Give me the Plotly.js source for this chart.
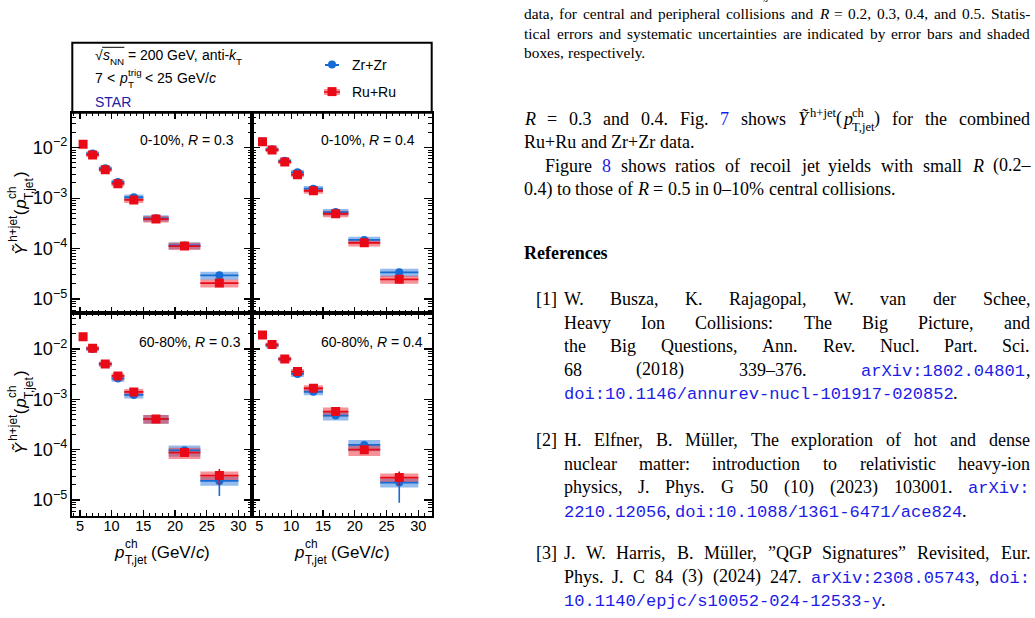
<!DOCTYPE html>
<html>
<head>
<meta charset="utf-8">
<script src="https://cdn.plot.ly/plotly-3.0.1.min.js"></script>
<style>
html, body { margin: 0; padding: 0; background: #fff; }
#fig { width: 1035px; height: 618px; }
</style>
</head>
<body>
<div id="fig"></div>
<script>
const W = 1035, H = 618;

// ---- p_T,jet^ch bins (GeV/c) ----
const binLow  = [5, 6, 8, 10, 12, 15, 19, 24];
const binHigh = [6, 8, 10, 12, 15, 19, 24, 30];
const binMid  = [5.5, 7, 9, 11, 13.5, 17, 21.5, 27];

// ---- recoil-jet yields Y~(h+jet) ----
const zrCentR03 = [0.0118, 0.0077, 0.0039, 0.0021, 0.00104, 0.000398, 0.000115, 2.95e-5];
const ruCentR03 = [0.0117, 0.0072, 0.00366, 0.00193, 0.00092, 0.000385, 0.000112, 2.07e-5];
const zrCentR04 = [0.0132, 0.0093, 0.0055, 0.00325, 0.00154, 0.00053, 0.000148, 3.37e-5];
const ruCentR04 = [0.0131, 0.0090, 0.0052, 0.00291, 0.0014, 0.00049, 0.00013, 2.45e-5];
const zrPeriR03 = [0.0175, 0.0100, 0.0050, 0.00258, 0.00122, 0.000408, 9.7e-5, 2.4e-5];
const ruPeriR03 = [0.0175, 0.0103, 0.00504, 0.00291, 0.0014, 0.000408, 8.75e-5, 3.06e-5];
const zrPeriR04 = [0.0190, 0.0118, 0.0063, 0.00319, 0.00141, 0.000475, 0.000124, 2.22e-5];
const ruPeriR04 = [0.0190, 0.0122, 0.00634, 0.00355, 0.00166, 0.00057, 0.0001, 2.79e-5];

// ---- relative statistical errors ----
const statCent   = [0.01, 0.01, 0.012, 0.015, 0.02, 0.03, 0.05, 0.10];
const statPeriZrR03 = [0.01, 0.015, 0.02, 0.03, 0.04, 0.06, 0.12, 0.50];
const statPeriRuR03 = [0.01, 0.015, 0.02, 0.03, 0.04, 0.06, 0.12, 0.35];
const statPeriZrR04 = [0.01, 0.015, 0.02, 0.03, 0.04, 0.06, 0.12, 0.60];
const statPeriRuR04 = [0.01, 0.015, 0.02, 0.03, 0.04, 0.06, 0.12, 0.32];

// ---- relative systematic uncertainties (box half-heights) ----
const sysCent = [0.08, 0.10, 0.10, 0.12, 0.13, 0.15, 0.16, 0.18];
const sysPeri = [0.08, 0.10, 0.11, 0.13, 0.15, 0.20, 0.25, 0.20];

// ---- page text ----
const captionTail = "{d|T,jet}";
const captionLines = [
  "data, for central and peripheral collisions and {i|R} = 0.2, 0.3, 0.4, and 0.5. Statis-",
  "tical errors and systematic uncertainties are indicated by error bars and shaded",
  "boxes, respectively."
];
const bodyLines = [
  "{i|R} = 0.3 and 0.4. Fig. {L|7} shows {i|Ỹ}{u|h+jet}({i|p}{uk|ch}{d|T,jet}) for the combined",
  "Ru+Ru and Zr+Zr data.",
  "Figure {L|8} shows ratios of recoil jet yields with small {i|R} (0.2–",
  "0.4) to those of {i|R} = 0.5 in 0–10% central collisions."
];
const refLabels = ["[1]", "[2]", "[3]"];
const refLines = [
  ["W. Busza, K. Rajagopal, W. van der Schee,",
   "Heavy Ion Collisions: The Big Picture, and",
   "the Big Questions, Ann. Rev. Nucl. Part. Sci.",
   "68 (2018) 339–376. {mL|arXiv:1802.04801},",
   "{mL|doi:10.1146/annurev-nucl-101917-020852}."],
  ["H. Elfner, B. Müller, The exploration of hot and dense",
   "nuclear matter: introduction to relativistic heavy-ion",
   "physics, J. Phys. G 50 (10) (2023) 103001. {mL|arXiv:}",
   "{mL|2210.12056}, {mL|doi:10.1088/1361-6471/ace824}."],
  ["J. W. Harris, B. Müller, ”QGP Signatures” Revisited, Eur.",
   "Phys. J. C 84 (3) (2024) 247. {mL|arXiv:2308.05743}, {mL|doi:}",
   "{mL|10.1140/epjc/s10052-024-12533-y}."]
];

// ---- fonts & colours ----
const SANS = 'Liberation Sans', SERIF = 'Liberation Serif', MONO = 'Liberation Mono';
const METRIC = { 'Liberation Sans': [0.905, 0.212], 'Liberation Serif': [0.891, 0.216], 'Liberation Mono': [0.833, 0.300] };
const LINK = 'rgb(28,28,232)';
const BLUE = 'rgb(22,108,212)', RED = 'rgb(232,10,22)';
const BLUE_BOX = 'rgba(40,120,220,0.5)', RED_BOX = 'rgba(240,40,50,0.5)';

const figText   = { family: SANS, size: 14, color: '#000', script: 0.7, sup: -0.5, sub: 0.33, monoScale: 1 };
const titleText = { family: SANS, size: 17, color: '#000', script: 0.7, sup: -0.6, sub: 0.38, monoScale: 1 };
const capText   = { family: SERIF, size: 15.4, color: '#000', script: 0.7, sup: -0.38, sub: 0.2, monoScale: 0.95 };
const bodyText  = { family: SERIF, size: 18, color: '#000', script: 0.7, sup: -0.45, sub: 0.34, monoScale: 0.95 };

// ---- text layout helpers (runs measured on a canvas, drawn as annotations) ----
const ctx = document.createElement('canvas').getContext('2d');
function measure(t, fam, size, it, bd) {
  ctx.font = (it ? 'italic ' : '') + (bd ? 'bold ' : '') + size + 'px "' + fam + '"';
  return ctx.measureText(t).width;
}
function esc(t) { return t.replace(/&/g, '&amp;').replace(/</g, '&lt;').replace(/>/g, '&gt;'); }
function parseWord(w) {
  const runs = [], re = /\{([a-zA-Z]*)\|([^}]*)\}|([^{]+)/g;
  let m;
  while ((m = re.exec(w))) runs.push(m[3] !== undefined ? { t: m[3], f: '' } : { t: m[2], f: m[1] });
  return runs;
}
function runStyle(r, base) {
  const f = r.f;
  let fam = base.family, size = base.size, color = base.color, shift = 0;
  if (f.includes('m')) { fam = MONO; size = base.size * base.monoScale; }
  if (f.includes('L')) color = LINK;
  if (f.includes('u')) { size *= base.script; shift = base.sup * base.size; }
  if (f.includes('d')) { size *= base.script; shift = base.sub * base.size; }
  return { fam, size, color, shift, it: f.includes('i'), bd: f.includes('b') || !!base.bold, stack: f.includes('k') };
}
// italic glyphs lean right: leave a little room before an upright superscript
function italicPad(r, next, base) {
  return (r.f.includes('i') && next && next.f.includes('u')) ? 0.08 * base.size : 0;
}
function wordWidth(runs, base) {
  let w = 0, pend = 0;
  runs.forEach((r, j) => {
    const s = runStyle(r, base), rw = measure(r.t, s.fam, s.size, s.it, s.bd) + italicPad(r, runs[j + 1], base);
    if (s.stack) pend = rw; else { w += Math.max(rw, pend); pend = 0; }
  });
  return w + pend;
}
const anns = [];
const shapes = [];
function emitWord(runs, x, yb, base, rot) {
  let cur = 0, pend = 0;
  runs.forEach((r, j) => {
    const s = runStyle(r, base);
    const w = measure(r.t, s.fam, s.size, s.it, s.bd);
    const adv = w + italicPad(r, runs[j + 1], base);
    const m = METRIC[s.fam], mid = (m[0] - m[1]) / 2 * s.size;
    let txt = esc(r.t);
    if (s.it) txt = '<i>' + txt + '</i>';
    if (s.bd) txt = '<b>' + txt + '</b>';
    const a = { text: txt, xref: 'paper', yref: 'paper', showarrow: false, borderpad: 0, borderwidth: 0,
                font: { family: s.fam, size: s.size, color: s.color } };
    if (!rot) {
      Object.assign(a, { x: (x + cur) / W, y: 1 - (yb + s.shift - mid) / H, xanchor: 'left', yanchor: 'middle' });
    } else {
      // text reads bottom-to-top; x = start of run along the text, yb = baseline x position
      Object.assign(a, { x: (yb + s.shift - mid) / W, y: 1 - (x - cur - w / 2) / H,
                         xanchor: 'center', yanchor: 'middle', textangle: -90 });
    }
    anns.push(a);
    if (s.stack) pend = adv; else { cur += Math.max(adv, pend); pend = 0; }
  });
  return cur + pend;
}
function emitLine(str, x0, x1, yb, base, justify) {
  const words = str.split(' ').filter(Boolean).map(parseWord);
  const ws = words.map(r => wordWidth(r, base));
  let gap = measure(' ', base.family, base.size);
  if (justify && words.length > 1) gap = (x1 - x0 - ws.reduce((a, b) => a + b, 0)) / (words.length - 1);
  let x = x0;
  words.forEach((r, i) => { emitWord(r, x, yb, base, false); x += ws[i] + gap; });
  return x - gap;
}
function lineWidth(str, base) {
  const words = str.split(' ').filter(Boolean).map(parseWord);
  const gap = measure(' ', base.family, base.size);
  return words.reduce((a, r) => a + wordWidth(r, base), 0) + gap * (words.length - 1);
}

// ---- data traces ----
const panels = [
  { xa: 'x',  ya: 'y',  zr: zrCentR03, ru: ruCentR03, zrStat: statCent, ruStat: statCent, sys: sysCent },
  { xa: 'x2', ya: 'y2', zr: zrCentR04, ru: ruCentR04, zrStat: statCent, ruStat: statCent, sys: sysCent },
  { xa: 'x3', ya: 'y3', zr: zrPeriR03, ru: ruPeriR03, zrStat: statPeriZrR03, ruStat: statPeriRuR03, sys: sysPeri },
  { xa: 'x4', ya: 'y4', zr: zrPeriR04, ru: ruPeriR04, zrStat: statPeriZrR04, ruStat: statPeriRuR04, sys: sysPeri }
];
function boxTrace(vals, sys, fill, xa, ya) {
  const xs = [], ys = [];
  vals.forEach((v, i) => {
    const lo = v * (1 - sys[i]), hi = v * (1 + sys[i]);
    xs.push(binLow[i], binHigh[i], binHigh[i], binLow[i], binLow[i], null);
    ys.push(lo, lo, hi, hi, lo, null);
  });
  return { type: 'scatter', mode: 'lines', x: xs, y: ys, fill: 'toself', fillcolor: fill,
           line: { width: 0 }, xaxis: xa, yaxis: ya, hoverinfo: 'skip', showlegend: false };
}
function markerTrace(vals, stat, color, symbol, size, xa, ya, name, legend) {
  return { type: 'scatter', mode: 'markers', name: name, x: binMid, y: vals, xaxis: xa, yaxis: ya,
           marker: { symbol: symbol, size: size, color: color, line: { width: 0 } },
           error_y: { type: 'data', array: vals.map((v, i) => v * stat[i]), color: color, thickness: 1.6, width: 0 },
           error_x: { type: 'data', array: binMid.map((m, i) => binHigh[i] - m), color: color, thickness: 1.8, width: 0 },
           showlegend: !!legend, legend: legend || 'legend' };
}
const data = [];
panels.forEach((p, k) => {
  data.push(boxTrace(p.zr, p.sys, BLUE_BOX, p.xa, p.ya));
  data.push(boxTrace(p.ru, p.sys, RED_BOX, p.xa, p.ya));
  data.push(markerTrace(p.zr, p.zrStat, BLUE, 'circle', 8, p.xa, p.ya, 'Zr+Zr', k === 0 ? 'legend' : null));
  data.push(markerTrace(p.ru, p.ruStat, RED, 'square', 9, p.xa, p.ya, 'Ru+Ru', k === 0 ? 'legend2' : null));
});

// ---- axes ----
const xL = [72.3 / W, 251.7 / W], xR = [251.7 / W, 431.7 / W];
const yT = [1 - 313.3 / H, 1 - 112.7 / H], yB = [1 - 516 / H, 1 - 313.3 / H];
function xAxis(domain, anchor, labels) {
  return { domain, anchor, range: [3.8, 32.1], showgrid: false, zeroline: false, showline: true,
           linewidth: 2, linecolor: '#000', mirror: 'ticks', ticks: 'inside', ticklen: 6, tickwidth: 1.2,
           tickcolor: '#000', tick0: 0, dtick: 5, showticklabels: labels, ticklabelstandoff: -4,
           tickfont: { family: SANS, size: 14.5, color: '#000' },
           minor: { ticks: 'inside', ticklen: 3, tickwidth: 1, tickcolor: '#000', dtick: 1, showgrid: false },
           fixedrange: true };
}
function yAxis(domain, anchor, range, labels) {
  return { domain, anchor, type: 'log', range, showgrid: false, zeroline: false, showline: true,
           linewidth: 2, linecolor: '#000', mirror: 'ticks', ticks: 'inside', ticklen: 8, tickwidth: 1.2,
           tickcolor: '#000', dtick: 1, exponentformat: 'power', showticklabels: labels,
           tickfont: { family: SANS, size: 14.5, color: '#000' },
           minor: { ticks: 'inside', ticklen: 4, tickwidth: 1, tickcolor: '#000', dtick: 'D1', showgrid: false },
           fixedrange: true };
}

// ---- figure texts ----
emitLine("√{i|s}{d|NN} = 200 GeV, anti-{i|k}{d|T}", 95, 0, 60, figText, false);
{
  const wr = measure('√', SANS, 14), ws = wordWidth(parseWord('{i|s}{d|NN}'), figText);
  shapes.push({ type: 'line', xref: 'paper', yref: 'paper', x0: (95 + wr - 0.5) / W, x1: (95 + wr + ws + 0.5) / W,
                y0: 1 - 47.3 / H, y1: 1 - 47.3 / H, line: { color: '#000', width: 1 } });
}
emitLine("7 < {i|p}{uk|trig}{d|T} < 25 GeV/{i|c}", 95, 0, 83, figText, false);
emitLine("STAR", 95, 0, 106.5, Object.assign({}, figText, { color: 'rgb(32,32,165)' }), false);

emitLine("0-10%, {i|R} = 0.3", 140, 0, 145, figText, false);
emitLine("0-10%, {i|R} = 0.4", 321, 0, 145, figText, false);
emitLine("60-80%, {i|R} = 0.3", 139, 0, 347, figText, false);
emitLine("60-80%, {i|R} = 0.4", 321, 0, 347, figText, false);

// x-axis titles
const xTitle = "{i|p}{uk|ch}{d|T,jet} (GeV/{i|c})";
[162, 341.7].forEach(cx => emitLine(xTitle, cx - lineWidth(xTitle, titleText) / 2, 0, 558, titleText, false));

// y-axis titles (rotated)
const yTitleRuns = parseWord("{i|Ỹ}{u|h+jet}({i|p}{uk|ch}{d|T,jet})");
[213, 412].forEach(cy => {
  const len = wordWidth(yTitleRuns, titleText);
  emitWord(yTitleRuns, cy + len / 2, 26.5, titleText, true);
});

// legend decorations (bar through the symbols)
shapes.push({ type: 'line', xref: 'paper', yref: 'paper', x0: 325 / W, x1: 339 / W, y0: 1 - 65 / H, y1: 1 - 65 / H,
              line: { color: BLUE, width: 2 } });
shapes.push({ type: 'rect', xref: 'paper', yref: 'paper', x0: 324 / W, x1: 340 / W, y0: 1 - 95 / H, y1: 1 - 89 / H,
              fillcolor: RED_BOX, line: { width: 0 } });
shapes.push({ type: 'line', xref: 'paper', yref: 'paper', x0: 324 / W, x1: 340 / W, y0: 1 - 92 / H, y1: 1 - 92 / H,
              line: { color: RED, width: 1.5 } });

// frame around the header area
shapes.push({ type: 'rect', xref: 'paper', yref: 'paper', x0: 72.3 / W, x1: 431.7 / W, y0: 1 - 112.7 / H, y1: 1 - 42.7 / H,
              line: { color: '#000', width: 2 }, fillcolor: 'rgba(0,0,0,0)' });

// ---- page text on the right ----
emitLine(captionTail, 757, 0, -3.5, capText, false);
const capBase = [19, 38.5, 58];
captionLines.forEach((l, i) => emitLine(l, 524, 1030, capBase[i], capText, i < 2));
const bodyBase = [125, 148.5, 172, 195.5];
bodyLines.forEach((l, i) => emitLine(l, i === 2 ? 545 : 524, 1030, bodyBase[i], bodyText, i === 0 || i === 2));
emitLine("{b|References}", 524, 0, 259, bodyText, false);
const refBase = [[305, 328.6, 352.2, 375.8, 399.4], [446, 469.6, 493.2, 516.8], [559, 582.6, 606.2]];
const refJust = [[true, true, true, true, false], [true, true, true, false], [true, true, false]];
refLines.forEach((lines, k) => {
  const lw = lineWidth(refLabels[k], bodyText);
  emitLine(refLabels[k], 556.5 - lw, 0, refBase[k][0], bodyText, false);
  lines.forEach((l, i) => emitLine(l, 563.5, 1030, refBase[k][i], bodyText, refJust[k][i]));
});

const legendStyle = { bgcolor: 'rgba(0,0,0,0)', borderwidth: 0, font: { family: SANS, size: 14, color: '#000' },
                      xanchor: 'left', yanchor: 'middle', itemclick: false, itemdoubleclick: false };

const layout = {
  width: W, height: H, margin: { l: 0, r: 0, t: 0, b: 0 },
  paper_bgcolor: '#fff', plot_bgcolor: 'rgba(0,0,0,0)',
  xaxis:  xAxis(xL, 'y', false),  yaxis:  yAxis(yT, 'x', [-5.284, -1.306], true),
  xaxis2: xAxis(xR, 'y2', false), yaxis2: yAxis(yT, 'x2', [-5.284, -1.306], false),
  xaxis3: xAxis(xL, 'y3', true),  yaxis3: yAxis(yB, 'x3', [-5.317, -1.292], true),
  xaxis4: xAxis(xR, 'y4', true),  yaxis4: yAxis(yB, 'x4', [-5.317, -1.292], false),
  legend:  Object.assign({ x: 312 / W, y: 1 - 65 / H }, legendStyle),
  legend2: Object.assign({ x: 312 / W, y: 1 - 92 / H }, legendStyle),
  annotations: anns,
  shapes: shapes,
  showlegend: true
};

Plotly.newPlot('fig', data, layout, { displayModeBar: false, staticPlot: true });
</script>
</body>
</html>
